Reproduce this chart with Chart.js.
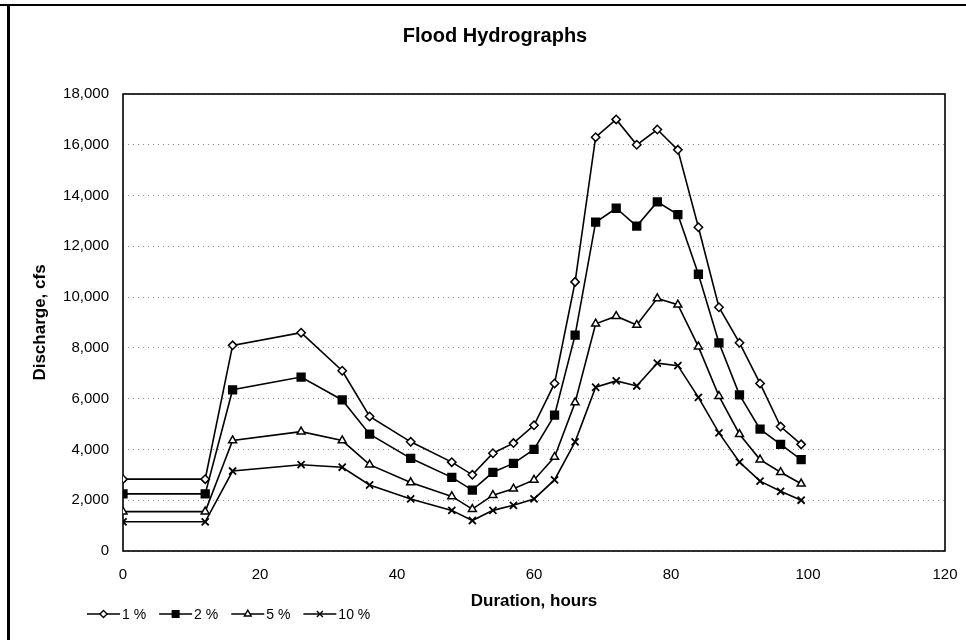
<!DOCTYPE html>
<html>
<head>
<meta charset="utf-8">
<script src="https://cdn.jsdelivr.net/npm/chart.js@4.4.1/dist/chart.umd.min.js"></script>
<style>
  html, body { margin: 0; padding: 0; background: #ffffff; }
  #wrap { width: 966px; height: 640px; position: relative; }
</style>
</head>
<body>
<div id="wrap"><canvas id="c" width="966" height="640"></canvas></div>
<script>
// ---- data ----
const hours = [0, 12, 16, 26, 32, 36, 42, 48, 51, 54, 57, 60, 63, 66, 69, 72, 75, 78, 81, 84, 87, 90, 93, 96, 99];
const seriesNames = ['1 %', '2 %', '5 %', '10 %'];
const flow1 = [2830, 2830, 8100, 8600, 7100, 5300, 4300, 3500, 3000, 3850, 4250, 4950, 6600, 10600, 16300, 17000, 16000, 16600, 15800, 12750, 9600, 8200, 6600, 4900, 4200];
const flow2 = [2250, 2250, 6350, 6850, 5950, 4600, 3650, 2900, 2400, 3100, 3450, 4000, 5350, 8500, 12950, 13500, 12800, 13750, 13250, 10900, 8200, 6150, 4800, 4200, 3600];
const flow5 = [1550, 1550, 4350, 4700, 4350, 3400, 2700, 2150, 1650, 2200, 2450, 2800, 3700, 5850, 8950, 9250, 8900, 9950, 9700, 8050, 6100, 4600, 3600, 3100, 2650];
const flow10 = [1150, 1150, 3150, 3400, 3300, 2600, 2050, 1600, 1200, 1600, 1800, 2050, 2800, 4300, 6450, 6700, 6500, 7400, 7300, 6050, 4650, 3500, 2750, 2350, 2000];
const xTicksMax = 120;
const yTicksMax = 18000;
const chartTitle = 'Flood Hydrographs';
const xTitle = 'Duration, hours';
const yTitle = 'Discharge, cfs';

const FONT = 'Arial, "Liberation Sans", Helvetica, sans-serif';

function pts(ys) { return hours.map((h, i) => ({ x: h, y: ys[i] })); }

const styles = [
  { pointStyle: 'rectRot', radius: 4.2, bg: '#ffffff' },
  { pointStyle: 'rect', radius: 5.5, bg: '#000000' },
  { pointStyle: 'triangle', radius: 4.6, bg: '#ffffff' },
  { pointStyle: 'crossRot', radius: 5, bg: '#ffffff' }
];
const allFlows = [flow1, flow2, flow5, flow10];

const datasets = allFlows.map((f, i) => ({
  label: seriesNames[i],
  data: pts(f),
  showLine: true,
  borderColor: '#000000',
  borderWidth: 1.6,
  pointStyle: styles[i].pointStyle,
  pointRadius: styles[i].radius,
  pointBackgroundColor: styles[i].bg,
  pointBorderColor: '#000000',
  pointBorderWidth: i === 3 ? 1.8 : 1.5,
  tension: 0,
  fill: false
}));

const decor = {
  id: 'decor',
  beforeDraw(chart) {
    const ctx = chart.ctx;
    ctx.save();
    ctx.fillStyle = '#ffffff';
    ctx.fillRect(0, 0, chart.width, chart.height);
    ctx.restore();
  },
  beforeDatasetsDraw(chart) {
    const { ctx, chartArea: a } = chart;
    ctx.save();
    ctx.strokeStyle = '#000000';
    ctx.lineWidth = 1.6;
    ctx.setLineDash([]);
    ctx.strokeRect(a.left, a.top, a.right - a.left, a.bottom - a.top);
    ctx.restore();
  },
  afterDraw(chart) {
    const ctx = chart.ctx;
    ctx.save();
    // outer frame (top & left edges visible in reference)
    ctx.fillStyle = '#000000';
    ctx.fillRect(0, 4, chart.width, 2);
    ctx.fillRect(7, 4, 3, chart.height - 4);
    // title
    ctx.font = 'bold 20px ' + FONT;
    ctx.textAlign = 'center';
    ctx.textBaseline = 'middle';
    ctx.fillText(chartTitle, 495, 36);
    // legend
    ctx.font = '14px ' + FONT;
    ctx.textAlign = 'left';
    let x = 87;
    const y = 614;
    chart.data.datasets.forEach((ds) => {
      ctx.strokeStyle = '#000000';
      ctx.lineWidth = 1.5;
      ctx.beginPath();
      ctx.moveTo(x, y);
      ctx.lineTo(x + 33, y);
      ctx.stroke();
      ctx.fillStyle = ds.pointBackgroundColor;
      ctx.strokeStyle = '#000000';
      ctx.lineWidth = 1.4;
      Chart.helpers.drawPoint(ctx, { pointStyle: ds.pointStyle, radius: ds.pointRadius * 0.85, rotation: 0, borderWidth: 1.4 }, x + 16.5, y);
      ctx.fillStyle = '#000000';
      ctx.fillText(ds.label, x + 35, y + 1);
      x += 35 + ctx.measureText(ds.label).width + 13;
    });
    ctx.restore();
  }
};

new Chart(document.getElementById('c'), {
  type: 'scatter',
  data: { datasets },
  plugins: [decor],
  options: {
    responsive: false,
    animation: false,
    devicePixelRatio: 1,
    layout: { padding: { top: 94, right: 21, bottom: 0, left: 0 } },
    plugins: {
      legend: { display: false },
      title: { display: false },
      tooltip: { enabled: false }
    },
    scales: {
      x: {
        type: 'linear',
        min: 0,
        max: xTicksMax,
        afterFit(s) { s.height = 89; s.paddingLeft = 0; s.paddingRight = 0; },
        ticks: { stepSize: 20, color: '#000000', font: { size: 15, family: FONT }, padding: 15, maxRotation: 0 },
        grid: { display: false, drawTicks: false },
        border: { display: false },
        title: { display: true, text: xTitle, color: '#000000', font: { size: 17, weight: 'bold', family: FONT }, padding: { top: 0, bottom: 28 } }
      },
      y: {
        type: 'linear',
        min: 0,
        max: yTicksMax,
        afterFit(s) { s.width = 123; s.paddingTop = 0; s.paddingBottom = 0; },
        ticks: {
          stepSize: 2000,
          color: '#000000',
          font: { size: 15, family: FONT },
          padding: 14,
          callback: (v) => v.toLocaleString('en-US')
        },
        grid: { display: true, drawTicks: false, color: '#8a8a8a', lineWidth: 1 },
        border: { display: false, dash: [1, 4] },
        title: { display: true, text: yTitle, color: '#000000', font: { size: 17, weight: 'bold', family: FONT }, padding: { top: 30, bottom: 0 } }
      }
    }
  }
});
</script>
</body>
</html>
